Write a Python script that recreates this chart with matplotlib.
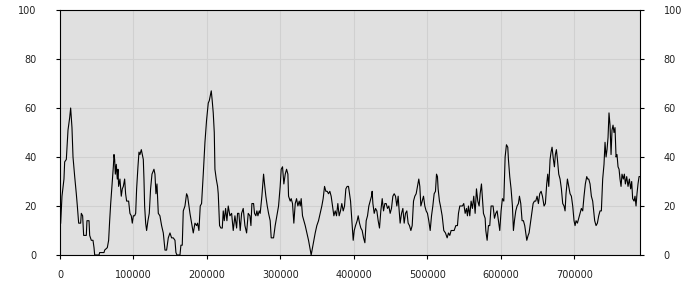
import numpy as np
from matplotlib import pyplot as plt

# readings of the series (x position, value)
xs = [900, 2700, 5400, 6350, 8600, 10900, 13150, 14500, 16300, 17700,
      20000, 22200, 23600, 25400, 28100, 29000, 30800, 32200, 35800, 36700,
      39500, 40400, 42600, 44900, 46300, 47200, 53100, 54000, 59900, 60800,
      64400, 66200, 67600, 69000, 70700, 72600, 73500, 74400, 75300, 76600,
      78000, 78900, 79800, 81600, 83400, 84800, 86200, 88000, 89300, 90700,
      93400, 95200, 97000, 98400, 99800, 101600, 103000, 104300, 106100, 107500,
      108800, 110700, 112000, 113400, 114300, 115200, 116600, 117900, 119700, 121500,
      123300, 125200, 127900,
      129250, 130600, 132000, 133800, 136000, 138300, 140600, 142900, 145100, 147400,
      149700, 151900, 154200, 156500, 157800, 159200, 163300, 164600, 166400, 167800,
      170100, 172300, 173700, 175500, 176900, 179100, 181400, 183700, 185900, 187300,
      189100, 190900, 192700, 195000, 197300, 199500, 201800, 203200, 204500, 205900,
      207200, 208600, 210000, 210900, 212700, 214500, 215400, 217200, 219000, 220900,
      222200, 223600, 225400, 227200, 229000, 231300, 233600, 235800, 238100, 240400,
      241700, 243500, 245300, 247200, 249400, 251700, 254000, 256200, 258500, 259900,
      261200, 263500, 264800, 266600, 268000, 269400, 271200, 272500, 274800, 277100,
      278400, 280200, 282100, 283900, 286100, 287500, 290700, 292900, 295200, 297500,
      299700, 301100, 302900, 304700, 306600, 308400, 310200, 311100, 313400, 314700,
      316500, 318300, 320200, 322000, 323800, 325600, 327000, 328300, 330100, 331900,
      333800, 336000, 338300, 340600, 341900, 343700, 345500, 347400, 349600, 351900,
      354200, 356400, 358200, 360100, 361900, 363700, 365500, 367300, 369100, 371000,
      372800, 374600, 376400, 378200, 380000, 381800, 383600, 385500, 387300, 389100,
      390900, 392700,
      395500, 397700, 399100, 400500, 402300, 404500, 405900, 407700, 409500, 411300,
      413200, 415000, 416800, 418600, 420400, 422200, 424000, 424900, 425900, 427700,
      429500, 431300, 433100, 434900, 436700, 438600, 440400, 442200, 444000, 445800,
      447600, 449400, 451200, 453100, 454900, 456700, 458500, 460300, 461200, 463000,
      464900, 466700, 468500, 470300, 472100, 473900, 475700, 477600, 479400, 481200,
      483000, 484800, 486600, 488400, 489800, 491200, 493000, 494800, 496600, 498400,
      500200, 502000, 503900, 505700, 507500, 509300, 511100, 512500, 513800, 514700,
      516500, 517900, 520200, 522400, 524700,
      527000, 528800, 530600, 532400, 534200, 536500, 538800, 541000, 542400, 544200,
      546000, 547800, 549600, 551500, 553300, 554600, 556000, 557800, 559600, 561400,
      563200, 565100, 566900, 568700, 570500, 571900, 573700, 575000, 576400, 578700,
      579600, 581400, 583200, 585000, 586800, 589500, 591400, 593200, 595000, 596800,
      598600, 600400, 602200, 604100, 605900, 607700, 609500, 610400, 612200, 614000,
      615850, 617200, 618600, 620400, 622200, 624000, 625400, 627200, 629000, 630800,
      632600, 634000, 635400, 637200, 638500, 640300, 642200, 644000, 645800, 647600,
      649400, 651200, 653000, 654900, 656700,
      658900, 660700, 662500, 663900, 665300, 667100, 668400, 669800, 671600, 673000,
      674300, 675700, 677100, 678900, 680700, 682500, 684300, 686100, 687500, 688800,
      690700, 692500, 694300, 696100, 697900, 699700, 701100, 702450, 704300, 706100,
      707900, 709700, 711500, 713300, 715100, 717000, 718300, 719700, 721500, 723300,
      725100, 726500, 727800, 729700, 731500, 733300, 735100, 736900, 738700, 740500,
      741900, 743300, 744600, 746000, 747300, 748700, 750100, 751400, 752800, 754100,
      755500, 756900, 758200, 759600, 761000, 762300, 763700, 765000, 766800, 768200,
      769600, 771400, 773200, 775000, 776800, 778200, 779500, 781400, 782700, 784100,
      785400, 786800, 788200, 789500]

ys = [13, 24, 31, 38, 39, 51, 56, 60, 52, 40,
      32, 25, 20, 13, 13, 17, 16, 8, 8, 14,
      14, 8, 6, 6, 3, 0, 0, 1, 1, 2,
      3, 6, 14, 21, 28, 36, 41, 39, 33, 37,
      31, 35, 28, 31, 24, 27, 28, 31, 25, 22,
      22, 17, 16, 13, 16, 16, 17, 27, 36, 42,
      41, 43, 41, 39, 31, 20, 13, 10, 14, 17,
      27, 33, 35,
      33, 25, 29, 17, 16, 12, 9, 2, 2, 7,
      9, 7, 7, 6, 1, 0, 0, 4, 4, 18,
      20, 25, 24, 20, 17, 13, 9, 13, 12, 13,
      10, 20, 21, 33, 46, 55, 62, 63, 65, 67,
      63, 58, 50, 35, 31, 28, 25, 12, 11, 11,
      18, 14, 19, 14, 20, 16, 17, 10, 16, 11,
      17, 17, 10, 17, 19, 12, 9, 17, 16, 12,
      21, 21, 17, 16, 18, 16, 18, 17, 24, 33,
      29, 24, 20, 17, 14, 7, 7, 12, 16, 20,
      28, 35, 36, 29, 33, 35, 33, 24, 22, 23,
      21, 13, 21, 23, 20, 22, 20, 23, 16, 14,
      12, 9, 6, 2, 0, 3, 6, 9, 12, 14,
      17, 20, 23, 28, 26, 26, 25, 26, 24, 20,
      16, 18, 16, 21, 16, 18, 21, 18, 20, 27,
      28, 28,
      22, 12, 6, 10, 12, 14, 16, 13, 11, 10,
      7, 5, 14, 16, 20, 22, 24, 26, 21, 17,
      19, 18, 14, 11, 18, 23, 18, 21, 21, 19,
      20, 17, 19, 24, 25, 24, 20, 24, 20, 13,
      17, 19, 13, 17, 18, 13, 12, 10, 12, 22,
      24, 25, 28, 31, 28, 20, 22, 24, 20, 18,
      17, 14, 10, 16, 20, 25, 26, 33, 32, 27,
      22, 20, 16, 10, 9,
      7, 9, 8, 10, 10, 10, 12, 12, 17, 20,
      20, 20, 21, 17, 19, 16, 20, 16, 22, 19,
      24, 17, 27, 22, 20, 25, 29, 23, 17, 15,
      10, 6, 12, 12, 20, 20, 15, 17, 18, 14,
      10, 18, 23, 22, 40, 45, 44, 39, 32, 27,
      20, 10, 14, 18, 20, 21, 24, 21, 14, 14,
      12, 9, 6, 8, 9, 13, 17, 21, 22, 22,
      24, 21, 25, 26, 24,
      20, 21, 29, 33, 28, 39, 42, 44, 39, 36,
      41, 43, 39, 33, 31, 27, 21, 20, 18, 25,
      31, 28, 25, 24, 20, 14, 12, 14, 13, 15,
      17, 19, 18, 24, 29, 32, 31, 31, 29, 24,
      22, 18, 14, 12, 13, 16, 18, 18, 31, 37,
      46, 40, 43, 48, 58, 53, 41, 51, 53, 50,
      52, 40, 41, 36, 35, 31, 28, 33, 31, 33,
      29, 32, 28, 31, 27, 30, 23, 22, 24, 20,
      25, 29, 32, 32]

x_ticks = [0, 100000, 200000, 300000, 400000, 500000, 600000, 700000]
y_ticks = [0, 20, 40, 60, 80, 100]

fig = plt.figure(figsize=(7, 3), dpi=100)
ax = fig.add_axes([60 / 700, 45 / 300, 580 / 700, 245 / 300])
ax.set_facecolor("#e0e0e0")
ax.plot(xs, ys, color="black", linewidth=0.8)

ax.set_xlim(0, 789500)
ax.set_ylim(0, 100)
ax.set_xticks(x_ticks)
ax.set_xticklabels([str(t) for t in x_ticks])
ax.set_yticks(y_ticks)
ax.grid(True, color="#d0d0d0", linewidth=0.8)
ax.set_axisbelow(True)

for s in ax.spines.values():
    s.set_color("black")
    s.set_linewidth(0.8)

ax.tick_params(axis="x", direction="out", length=3, width=0.8, pad=8,
               labelsize=7, labelcolor="#222222")
ax.tick_params(axis="y", direction="out", length=3, width=0.8, pad=14,
               labelsize=7, labelcolor="#222222", right=True, labelright=True)

fig.savefig("out.png", dpi=100)
